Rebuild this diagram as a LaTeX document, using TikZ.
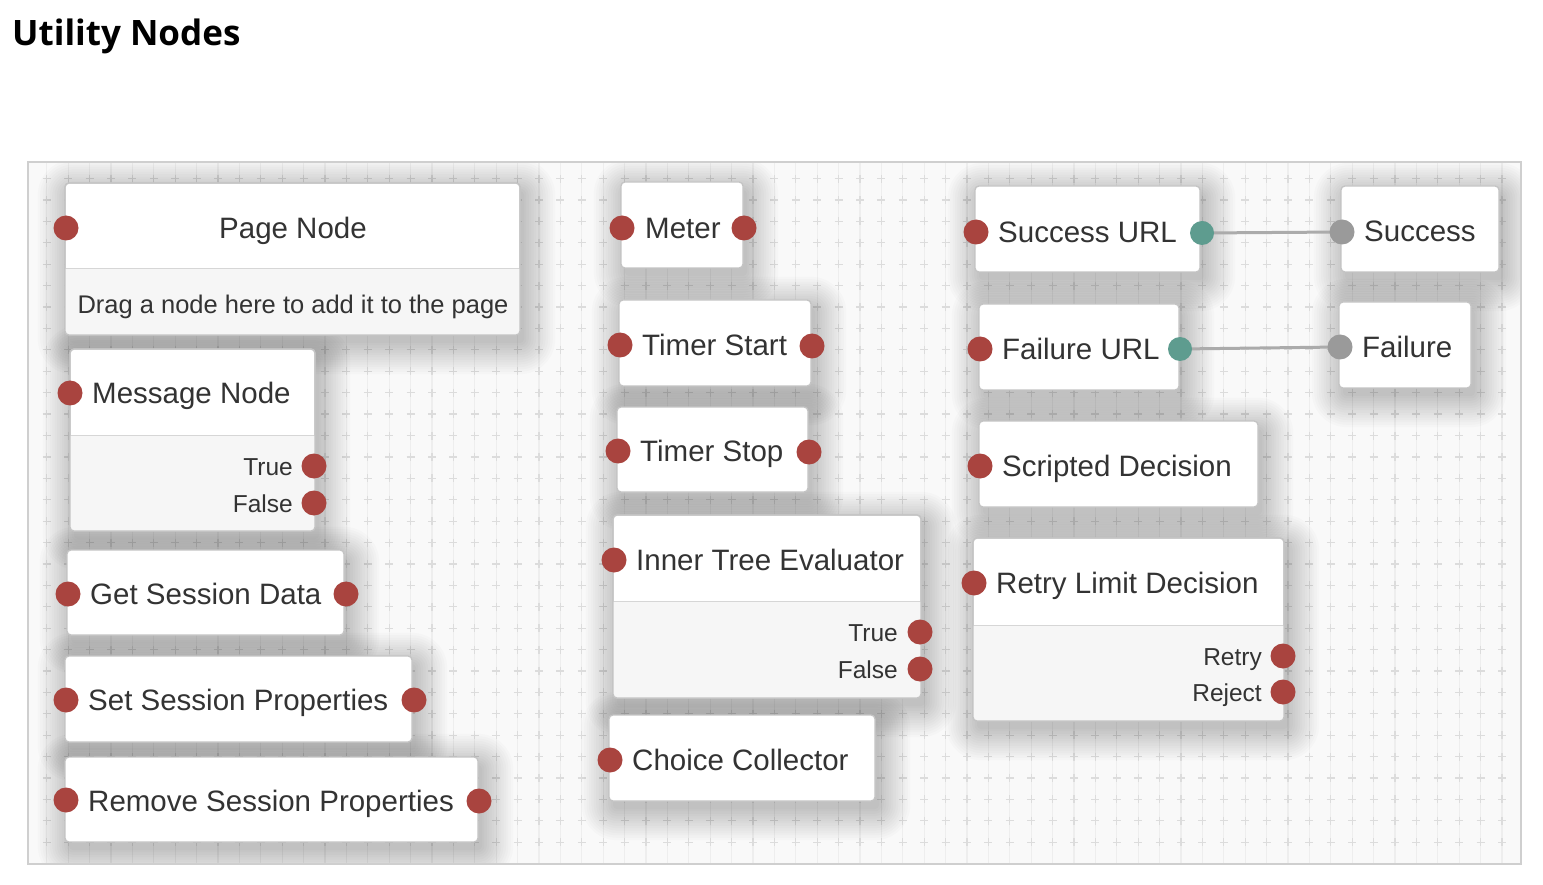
\documentclass[tikz,border=0pt]{standalone}
\usepackage{fontspec}
\setmainfont{Liberation Sans}
\newfontfamily\titlefont{Open Sans}
\usetikzlibrary{fit}
\definecolor{portred}{HTML}{A9443F}
\definecolor{portteal}{HTML}{5E9C8F}
\definecolor{portgray}{HTML}{9A9A9A}
\definecolor{wire}{HTML}{ABABAB}
\definecolor{txt}{HTML}{333333}
\definecolor{boxborder}{HTML}{C4C4C4}
\definecolor{lowerfill}{HTML}{F6F6F6}
\definecolor{canvasbg}{HTML}{F9F9F9}
\definecolor{gridfine}{HTML}{EEEEEE}
\definecolor{gridcross}{HTML}{DCDCDC}
\definecolor{frame}{HTML}{CFCFCF}
\tikzset{
  box/.style={draw=boxborder, line width=1.3pt, fill=white, rounded corners=4pt,
    inner sep=0pt, outer sep=0pt},
  border/.style={draw=boxborder, line width=1.3pt, rounded corners=4pt},
  divider/.style={draw=boxborder!70, line width=1pt},
  shadowlayer/.style={fill=black, opacity=0.017},
  port/.style={circle, fill=portred, minimum size=25pt, inner sep=0pt, outer sep=0pt},
  tport/.style={port, fill=portteal, minimum size=24pt},
  gport/.style={port, fill=portgray},
  lbl/.style={font=\fontsize{29.5}{34}\selectfont, text=txt, anchor=base west, inner sep=0pt},
  clbl/.style={lbl, anchor=base},
  sub/.style={font=\fontsize{25.5}{30}\selectfont, text=txt, anchor=base, inner sep=0pt},
  outlbl/.style={font=\fontsize{24.5}{29}\selectfont, text=txt, anchor=base east, inner sep=0pt},
  wireline/.style={draw=wire, line width=3pt},
}
\newcommand{\boxshadow}[4]{%
  \foreach \k in {0,...,13}{%
    \fill[shadowlayer, rounded corners=4pt+2.4pt*\k]
      ({#1-2.4*\k+4},{#2-2.4*\k+8}) rectangle ({#3+2.4*\k+4},{#4+2.4*\k+8});
  }%
}
\newcommand{\lowerpart}[2]{%
  \begin{scope}
    \clip[rounded corners=4pt] (#1.north west) rectangle (#1.south east);
    \fill[lowerfill] (#1.west |- 0,#2) rectangle (#1.south east);
  \end{scope}
  \draw[divider] (#1.west |- 0,#2) -- (#1.east |- 0,#2);
  \draw[border] (#1.north west) rectangle (#1.south east);
}
\begin{document}
\begin{tikzpicture}[x=1pt,y=-1pt]
\useasboundingbox (0,0) rectangle (1543,885);
\fill[white] (0,0) rectangle (1543,885);
% title
\node[font=\titlefont\bfseries\fontsize{35}{40}\selectfont, anchor=base west, inner sep=0pt] (title) at (12,46) {Utility Nodes};
% canvas
\fill[canvasbg] (28,162) rectangle (1521,864);
\begin{scope}
  \clip (28,162) rectangle (1521,864);
  \draw[gridfine, line width=1.2pt, shift={(4,7.5)}] (0,0) grid[step=21.4] (1530,870);
  \draw[gridcross, line width=1.2pt]
    \foreach \i in {1,...,70} { \foreach \j in {7,...,39} {
      ({21.4*\i+4-4},{21.4*\j+7.5}) -- ({21.4*\i+4+4},{21.4*\j+7.5})
      ({21.4*\i+4},{21.4*\j+7.5-4}) -- ({21.4*\i+4},{21.4*\j+7.5+4}) } };
  % shadows
  \boxshadow{65}{183}{520}{335}
  \boxshadow{70}{349}{315}{531}
  \boxshadow{67}{550}{344}{635}
  \boxshadow{65}{656}{412}{742}
  \boxshadow{65}{757}{478}{842}
  \boxshadow{621}{182}{743}{268}
  \boxshadow{619}{300}{811}{386}
  \boxshadow{617}{407}{808}{492}
  \boxshadow{613}{515}{921}{698}
  \boxshadow{609}{715}{875}{801}
  \boxshadow{975}{186}{1200}{272}
  \boxshadow{1341}{186}{1499}{272}
  \boxshadow{979}{304}{1179}{390}
  \boxshadow{1339}{302}{1471}{388}
  \boxshadow{979}{421}{1258}{507}
  \boxshadow{973}{538}{1284}{721}
\end{scope}
\draw[frame, line width=1.5pt] (28,162) rectangle (1521,864);

% ---------- column 1
\node[box, fit={(65,183) (520,335)}] (page) {};
\lowerpart{page}{269}
\node[clbl] (pagetitle) at (293,238.5) {Page Node};
\node[sub] (pagesub) at (293,314) {Drag a node here to add it to the page};
\node[port] (page-in) at (66,228) {};

\node[box, fit={(70,349) (315,531)}] (msg) {};
\lowerpart{msg}{435}
\node[lbl] (msgtitle) at (92,403.5) {Message Node};
\node[outlbl] (msgtrue) at (293,475) {True};
\node[outlbl] (msgfalse) at (293,512) {False};
\node[port] (msg-in) at (70,393) {};
\node[port] (msg-true) at (314,466) {};
\node[port] (msg-false) at (314,503) {};

\node[box, fit={(67,550) (344,635)}] (getsd) {};
\node[lbl] (getsdtitle) at (90,604) {Get Session Data};
\node[port] (getsd-in) at (68,594) {};
\node[port] (getsd-out) at (346,594) {};

\node[box, fit={(65,656) (412,742)}] (setsp) {};
\node[lbl] (setsptitle) at (88,710.5) {Set Session Properties};
\node[port] (setsp-in) at (66,700) {};
\node[port] (setsp-out) at (414,700) {};

\node[box, fit={(65,757) (478,842)}] (remsp) {};
\node[lbl] (remsptitle) at (88,811) {Remove Session Properties};
\node[port] (remsp-in) at (66,800) {};
\node[port] (remsp-out) at (479,801) {};

% ---------- column 2
\node[box, fit={(621,182) (743,268)}] (meter) {};
\node[lbl] (metertitle) at (645,238.5) {Meter};
\node[port] (meter-in) at (622,228) {};
\node[port] (meter-out) at (744,228) {};

\node[box, fit={(619,300) (811,386)}] (tstart) {};
\node[lbl] (tstarttitle) at (642,355.5) {Timer Start};
\node[port] (tstart-in) at (620,345) {};
\node[port] (tstart-out) at (812,346) {};

\node[box, fit={(617,407) (808,492)}] (tstop) {};
\node[lbl] (tstoptitle) at (640,461.5) {Timer Stop};
\node[port] (tstop-in) at (618,451) {};
\node[port] (tstop-out) at (809,452) {};

\node[box, fit={(613,515) (921,698)}] (inner) {};
\lowerpart{inner}{601}
\node[lbl] (innertitle) at (636,570) {Inner Tree Evaluator};
\node[outlbl] (innertrue) at (898,641) {True};
\node[outlbl] (innerfalse) at (898,678) {False};
\node[port] (inner-in) at (614,560) {};
\node[port] (inner-true) at (920,632) {};
\node[port] (inner-false) at (920,669) {};

\node[box, fit={(609,715) (875,801)}] (choice) {};
\node[lbl] (choicetitle) at (632,770.5) {Choice Collector};
\node[port] (choice-in) at (610,760) {};

% ---------- column 3
\node[box, fit={(975,186) (1200,272)}] (surl) {};
\node[lbl] (surltitle) at (998,242.5) {Success URL};
\node[port] (surl-in) at (976,232) {};

\node[box, fit={(1341,186) (1499,272)}] (succ) {};
\node[lbl] (succtitle) at (1364,242) {Success};

\node[box, fit={(979,304) (1179,390)}] (furl) {};
\node[lbl] (furltitle) at (1002,359.5) {Failure URL};
\node[port] (furl-in) at (980,349) {};

\node[box, fit={(1339,302) (1471,388)}] (fail) {};
\node[lbl] (failtitle) at (1362,357.5) {Failure};

\node[box, fit={(979,421) (1258,507)}] (scripted) {};
\node[lbl] (scriptedtitle) at (1002,476.5) {Scripted Decision};
\node[port] (scripted-in) at (980,466) {};

\node[box, fit={(973,538) (1284,721)}] (retry) {};
\lowerpart{retry}{625}
\node[lbl] (retrytitle) at (996,593.5) {Retry Limit Decision};
\node[outlbl] (retryretry) at (1262,665) {Retry};
\node[outlbl] (retryreject) at (1262,701) {Reject};
\node[port] (retry-in) at (974,583) {};
\node[port] (retry-retry) at (1283,656) {};
\node[port] (retry-reject) at (1283,692) {};

% connectors (drawn under the ports)
\coordinate (surlc) at (1202,233);
\coordinate (succc) at (1342,232);
\coordinate (furlc) at (1180,349);
\coordinate (failc) at (1340,347);
\draw[wireline] (surlc) -- (succc);
\draw[wireline] (furlc) -- (failc);
\node[tport] (surl-out) at (surlc) {};
\node[gport] (succ-in) at (succc) {};
\node[tport] (furl-out) at (furlc) {};
\node[gport] (fail-in) at (failc) {};
\end{tikzpicture}
\end{document}
